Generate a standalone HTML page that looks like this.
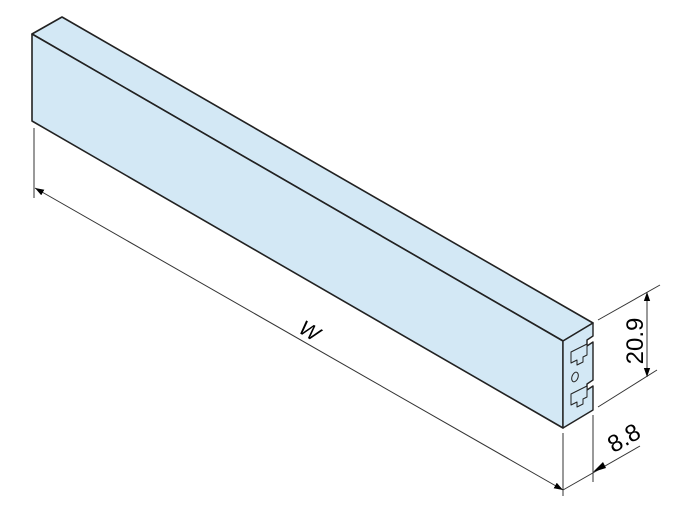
<!DOCTYPE html>
<html><head><style>body{margin:0;background:#fff}svg{display:block}</style></head>
<body>
<svg width="689" height="524" viewBox="0 0 689 524" xmlns="http://www.w3.org/2000/svg">
<defs><marker id="a" viewBox="0 0 10 10" refX="10" refY="5" markerWidth="9" markerHeight="9" orient="auto-start-reverse" markerUnits="userSpaceOnUse"><path d="M0,1.5L10,5L0,8.5z" fill="#000"/></marker></defs>
<g stroke="#222" stroke-linejoin="round">
<polygon points="32,34 62,17 593,323 563,341" fill="#d3e8f5" stroke-width="1.6"/>
<polygon points="32,34 563,341 563,428 32,121" fill="#d3e8f5" stroke-width="1.6"/>
<polygon points="563,341 593,323 593,336 587,340 587,346 593,342 593,380 587,384 587,390 593,386 593,410 563,428" fill="#d3e8f5" stroke-width="1.4"/>
<line x1="32" y1="34" x2="563" y2="341" stroke-width="1"/>
<path d="M571,352 L587,344 L587,355 L583,357 L583,362 L577,365 L577,360 L571,363 Z M571,394 L587,386 L587,397 L583,399 L583,404 L577,407 L577,402 L571,405 Z" fill="#d3e8f5" stroke-width="1"/>
<ellipse cx="575" cy="377" rx="3" ry="5" transform="rotate(20 575 377)" fill="#d3e8f5" stroke-width="1"/>
</g>
<g stroke="#333" stroke-width="1" fill="none">
<line x1="34" y1="128" x2="34" y2="198"/>
<line x1="563" y1="433" x2="563" y2="496"/>
<line x1="593" y1="415" x2="593" y2="482"/>
<line x1="35" y1="188" x2="563" y2="490" marker-start="url(#a)" marker-end="url(#a)"/>
<line x1="563" y1="490" x2="640" y2="446"/>
<line x1="598" y1="320" x2="660" y2="285"/>
<line x1="598" y1="407" x2="657" y2="370"/>
<line x1="647" y1="292" x2="647" y2="377" marker-start="url(#a)" marker-end="url(#a)"/>
</g>
<path d="M593,472 L603,462 L606,468Z" fill="#000"/>
<text x="310" y="338" font-family="Liberation Sans, sans-serif" font-size="21" font-style="italic" transform="rotate(30 310 330)" text-anchor="middle">W</text>
<text x="0" y="0" font-family="Liberation Sans, sans-serif" font-size="24" text-anchor="middle" transform="translate(643,341) rotate(-90)">20.9</text>
<text x="0" y="0" font-family="Liberation Sans, sans-serif" font-size="24" text-anchor="middle" transform="translate(628,445) rotate(-30)">8.8</text>
</svg>
</body></html>
